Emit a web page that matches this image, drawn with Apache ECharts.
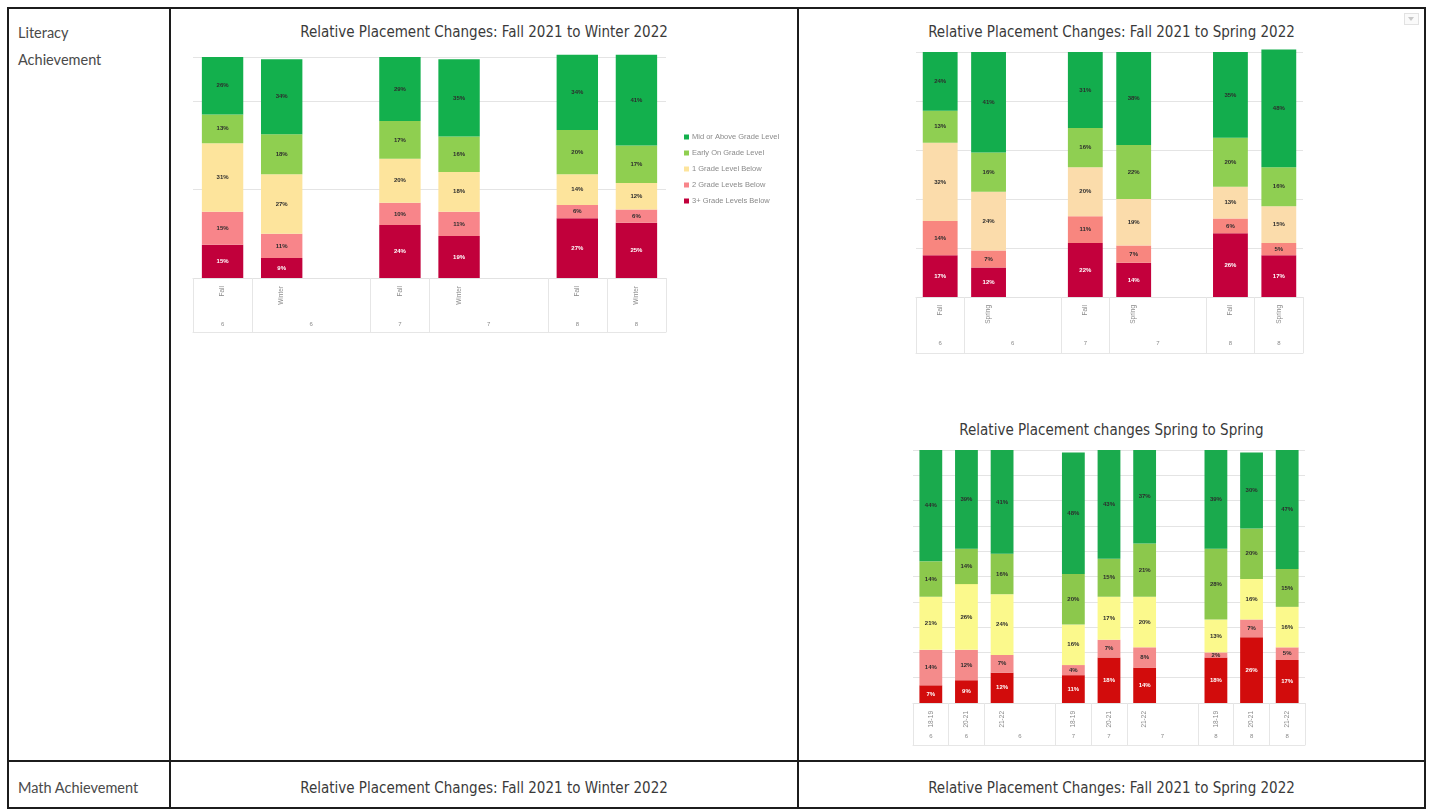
<!DOCTYPE html>
<html>
<head>
<meta charset="utf-8">
<script src="https://cdn.jsdelivr.net/npm/echarts@6/dist/echarts.min.js"></script>
<style>
  html, body { margin: 0; padding: 0; background: #fff; }
  #page { position: relative; width: 1432px; height: 810px; overflow: hidden; font-family: Lato, 'Open Sans', sans-serif; }
  .ln { position: absolute; background: #1c1c1c; }
  .cell { position: absolute; color: #4a4a4a; font-size: 14.5px; line-height: 27px; }
  .ttl { position: absolute; font-family: 'Liberation Sans Narrow', 'DejaVu Sans Condensed', 'Liberation Sans', sans-serif; font-size: 15px; color: #3a3a3a; text-align: center; line-height: 18px; }
  #chart { position: absolute; left: 0; top: 0; width: 1432px; height: 810px; }
  .dd { position: absolute; left: 1404px; top: 13px; width: 13px; height: 10px; border: 1px solid #e2e2e2; background: #fafafa; }
  .dd:after { content: ''; position: absolute; left: 3px; top: 3px; border-left: 3.5px solid transparent; border-right: 3.5px solid transparent; border-top: 4px solid #c8c8c8; }
</style>
</head>
<body>
<div id="page">
  <!-- table frame -->
  <div class="ln" style="left:7px;top:7px;width:1419px;height:2px"></div>
  <div class="ln" style="left:7px;top:760px;width:1419px;height:2px"></div>
  <div class="ln" style="left:7px;top:807px;width:1419px;height:2px"></div>
  <div class="ln" style="left:7px;top:7px;width:2px;height:802px"></div>
  <div class="ln" style="left:169px;top:7px;width:2px;height:802px"></div>
  <div class="ln" style="left:797px;top:7px;width:2px;height:802px"></div>
  <div class="ln" style="left:1424px;top:7px;width:2px;height:802px"></div>

  <div class="cell" style="left:18px;top:19px">Literacy<br>Achievement</div>
  <div class="cell" style="left:18px;top:774px">Math Achievement</div>

  <div class="ttl" style="left:171px;width:626px;top:23px">Relative Placement Changes: Fall 2021 to Winter 2022</div>
  <div class="ttl" style="left:799px;width:625px;top:23px">Relative Placement Changes: Fall 2021 to Spring 2022</div>
  <div class="ttl" style="left:799px;width:625px;top:421px">Relative Placement changes Spring to Spring</div>
  <div class="ttl" style="left:171px;width:626px;top:779px">Relative Placement Changes: Fall 2021 to Winter 2022</div>
  <div class="ttl" style="left:799px;width:625px;top:779px">Relative Placement Changes: Fall 2021 to Spring 2022</div>
  <div class="dd"></div>

  <div id="chart"></div>
</div>
<script>
// Placement bands, bottom of the stack first
const bandNames = ['3+ Grade Levels Below', '2 Grade Levels Below', '1 Grade Level Below', 'Early On Grade Level', 'Mid or Above Grade Level'];

// Fall 2021 to Winter 2022 ('' marks a spacer slot between grades)
const winterTerms = ['Fall', 'Winter', '', 'Fall', 'Winter', '', 'Fall', 'Winter'];
const winterGrades = ['6', '6', '7', '7', '8', '8'];
const winterBelow3 = [15, 9, null, 24, 19, null, 27, 25];
const winterBelow2 = [15, 11, null, 10, 11, null, 6, 6];
const winterBelow1 = [31, 27, null, 20, 18, null, 14, 12];
const winterEarlyOn = [13, 18, null, 17, 16, null, 20, 17];
const winterMidAbove = [26, 34, null, 29, 35, null, 34, 41];

// Fall 2021 to Spring 2022
const springTerms = ['Fall', 'Spring', '', 'Fall', 'Spring', '', 'Fall', 'Spring'];
const springGrades = ['6', '6', '7', '7', '8', '8'];
const springBelow3 = [17, 12, null, 22, 14, null, 26, 17];
const springBelow2 = [14, 7, null, 11, 7, null, 6, 5];
const springBelow1 = [32, 24, null, 20, 19, null, 13, 15];
const springEarlyOn = [13, 16, null, 16, 22, null, 20, 16];
const springMidAbove = [24, 41, null, 31, 38, null, 35, 48];

// Spring to Spring
const s2sYears = ['18-19', '20-21', '21-22', '', '18-19', '20-21', '21-22', '', '18-19', '20-21', '21-22'];
const s2sGrades = ['6', '6', '6', '7', '7', '7', '8', '8', '8'];
const s2sBelow3 = [7, 9, 12, null, 11, 18, 14, null, 18, 26, 17];
const s2sBelow2 = [14, 12, 7, null, 4, 7, 8, null, 2, 7, 5];
const s2sBelow1 = [21, 26, 24, null, 16, 17, 20, null, 13, 16, 16];
const s2sEarlyOn = [14, 14, 16, null, 20, 15, 21, null, 28, 20, 15];
const s2sMidAbove = [44, 39, 41, null, 48, 43, 37, null, 39, 30, 47];

const panels = [
  {
    grid: { left: 193, top: 57, width: 473, height: 221 },
    cats: winterTerms, grades: winterGrades,
    data: [winterBelow3, winterBelow2, winterBelow1, winterEarlyOn, winterMidAbove],
    colors: ['#c1003b', '#f8858a', '#fde49c', '#8fcf50', '#13b04d'],
    yStep: 40, gap: '30%', tableDepth: 54, gradeMargin: 5
  },
  {
    grid: { left: 916, top: 52, width: 387, height: 245 },
    cats: springTerms, grades: springGrades,
    data: [springBelow3, springBelow2, springBelow1, springEarlyOn, springMidAbove],
    colors: ['#c3003c', '#f8867f', '#fbdcab', '#8fcf52', '#13ad4d'],
    yStep: 20, gap: '28%', tableDepth: 56, gradeMargin: 7
  },
  {
    grid: { left: 913, top: 450, width: 392, height: 253 },
    cats: s2sYears, grades: s2sGrades,
    data: [s2sBelow3, s2sBelow2, s2sBelow1, s2sEarlyOn, s2sMidAbove],
    colors: ['#d20c0c', '#f48b8b', '#fbf98c', '#8cc84c', '#1aaa4d'],
    yStep: 10, gap: '36%', tableDepth: 42, gradeMargin: 6
  }
];

const option = {
  animation: false,
  grid: [], xAxis: [], yAxis: [], series: [],
  legend: {
    left: 679, top: 128, orient: 'vertical',
    itemWidth: 5, itemHeight: 5, itemGap: 8,
    icon: 'rect',
    data: bandNames.slice().reverse(),
    textStyle: { fontSize: 7.5, color: '#8a8a8a', fontFamily: 'Liberation Sans, sans-serif', padding: [0, 0, 0, -2] }
  }
};

panels.forEach((p, gi) => {
  const n = p.cats.length;
  // outer grade row: centred under each bar, or across a bar and the spacer that follows it
  const gradePos = [], dividers = [];
  p.cats.forEach((c, i) => {
    if (c === '') return;
    dividers.push(i);
    gradePos.push(p.cats[i + 1] === '' ? i + 1 : i + 0.5);
  });
  dividers.push(n);
  const gradeAt = {};
  gradePos.forEach((v, j) => { gradeAt[String(v)] = p.grades[j]; });

  option.grid.push(Object.assign({ containLabel: false }, p.grid));
  option.xAxis.push({
    type: 'category', gridIndex: gi, data: p.cats,
    axisLine: { show: true, lineStyle: { color: '#e2e2e2' } },
    axisTick: { show: false },
    axisLabel: { interval: 0, rotate: 90, fontSize: 6.5, color: '#8a8a8a', margin: 8, fontFamily: 'Liberation Sans, sans-serif' }
  });
  option.xAxis.push({
    type: 'value', gridIndex: gi, min: 0, max: n, position: 'bottom', offset: p.tableDepth,
    axisLine: { show: true, lineStyle: { color: '#e6e6e6' } },
    axisTick: { show: true, inside: true, length: p.tableDepth, customValues: dividers, lineStyle: { color: '#e6e6e6' } },
    axisLabel: {
      inside: true, customValues: gradePos, margin: p.gradeMargin, fontSize: 6, color: '#8a8a8a',
      fontFamily: 'Liberation Sans, sans-serif',
      formatter: v => gradeAt[String(v)] || ''
    },
    splitLine: { show: false }
  });
  option.yAxis.push({
    type: 'value', gridIndex: gi, min: 0, max: 100, interval: p.yStep,
    axisLine: { show: false }, axisTick: { show: false }, axisLabel: { show: false },
    splitLine: { show: true, lineStyle: { color: '#e4e4e4' } }
  });
  p.data.forEach((vals, si) => {
    option.series.push({
      type: 'bar', name: bandNames[si], stack: 'grid' + gi,
      xAxisIndex: gi * 2, yAxisIndex: gi, data: vals,
      barCategoryGap: p.gap, clip: false, silent: true,
      itemStyle: { color: p.colors[si] },
      label: {
        show: true, position: 'inside', fontSize: 6, fontWeight: 'bold',
        fontFamily: 'Liberation Sans, sans-serif',
        color: si === 0 ? '#ffffff' : '#2d2d2d',
        formatter: d => (d.value == null ? '' : d.value + '%')
      }
    });
  });
});

const chart = echarts.init(document.getElementById('chart'), null, { renderer: 'canvas' });
chart.setOption(option);
</script>
</body>
</html>
